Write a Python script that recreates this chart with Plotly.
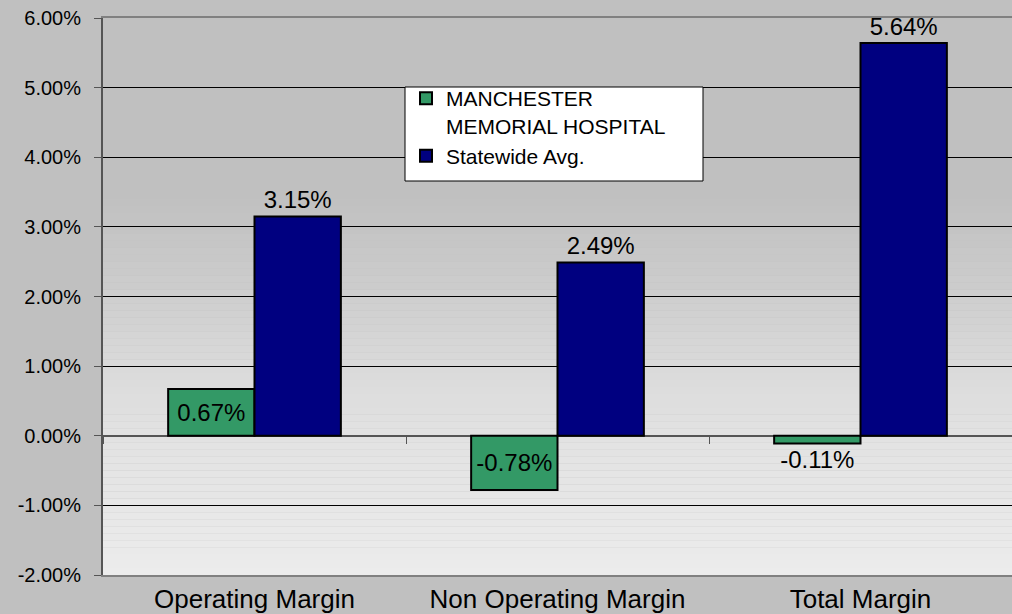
import plotly.graph_objects as go
import numpy as np

categories = ["Operating Margin", "Non Operating Margin", "Total Margin"]
hospital_name = "MANCHESTER<br>MEMORIAL HOSPITAL"
hospital_vals = [0.67, -0.78, -0.11]
statewide_name = "Statewide Avg."
statewide_vals = [3.15, 2.49, 5.64]
y_ticks = [-2, -1, 0, 1, 2, 3, 4, 5, 6]

FONT = "Liberation Sans, Arial, sans-serif"

W, H = 1012, 614
L, R, T, B = 103, 0, 18, 39
PW, PH = W - L - R, H - T - B

fig = go.Figure()
fig.add_trace(go.Bar(
    name=hospital_name, x=categories, y=hospital_vals,
    marker=dict(color="#339966", line=dict(color="black", width=2)),
    texttemplate="%{y:.2f}%", textposition=["inside", "inside", "outside"],
    textfont=dict(family=FONT, size=24, color="black"),
    insidetextanchor="middle", cliponaxis=False,
))
fig.add_trace(go.Bar(
    name=statewide_name, x=categories, y=statewide_vals,
    marker=dict(color="#000080", line=dict(color="black", width=2)),
    texttemplate="%{y:.2f}%", textposition="outside",
    textfont=dict(family=FONT, size=24, color="black"),
    cliponaxis=False,
))
# invisible trace to carry the tick-only axis at zero
fig.add_trace(go.Bar(x=categories, y=[None] * len(categories), xaxis="x2",
                     showlegend=False, hoverinfo="skip"))

# gradient background of the plot area
stops_y = [6, 3.5, 3, 2, 1, 0, -1, -2]
stops_c = [192, 192, 196, 206, 218, 226, 231, 236]
n = 80
edges = np.linspace(-2, 6, n + 1)
shapes = []
for i in range(n):
    mid = (edges[i] + edges[i + 1]) / 2
    c = int(round(np.interp(mid, stops_y[::-1], stops_c[::-1])))
    shapes.append(dict(type="rect", xref="paper", yref="y", x0=0, x1=1,
                       y0=edges[i], y1=edges[i + 1], layer="below",
                       fillcolor=f"rgb({c},{c},{c})", line=dict(width=0)))
# legend box
shapes.append(dict(type="rect", xref="paper", yref="paper",
                   x0=(405 - L) / PW, x1=(703 - L) / PW,
                   y0=(H - B - 181) / PH, y1=(H - B - 87) / PH,
                   fillcolor="white", line=dict(color="black", width=1), layer="above"))

fig.update_layout(
    width=W, height=H, autosize=False,
    margin=dict(l=L, r=R, t=T, b=B),
    paper_bgcolor="#c0c0c0", plot_bgcolor="rgba(0,0,0,0)",
    barmode="group", bargap=0.43, bargroupgap=0,
    font=dict(family=FONT, size=20, color="black"),
    shapes=shapes,
    showlegend=True,
    legend=dict(x=(406 - L) / PW, y=(H - B - 78) / PH, xanchor="left", yanchor="top",
                bgcolor="rgba(0,0,0,0)", borderwidth=0, valign="top",
                font=dict(family=FONT, size=21, color="black"),
                tracegroupgap=0, itemwidth=30),
    xaxis=dict(showgrid=False, ticks="", showline=True, linecolor="#808080",
               linewidth=2, mirror=True, tickfont=dict(size=26)),
    xaxis2=dict(overlaying="x", matches="x", anchor="free", position=0.25,
                showgrid=False, showline=False, ticks="outside", tickson="boundaries",
                ticklen=7, tickcolor="#555555", tickwidth=1, showticklabels=False),
    yaxis=dict(range=[-2, 6], tickvals=y_ticks, ticktext=[f"{v:.2f}%" for v in y_ticks],
               showgrid=True, gridcolor="black", gridwidth=1,
               zeroline=True, zerolinecolor="#555555", zerolinewidth=2,
               showline=True, linecolor="#555555", linewidth=2,
               ticks="outside", ticklen=7, tickcolor="#555555",
               ticklabelstandoff=9, tickfont=dict(size=20)),
)

post = (
    "document.body.style.margin='0px';"
    "document.body.style.overflow='hidden';"
    "var gd=document.getElementById('{plot_id}');"
    "Plotly.relayout(gd,{width:%d,height:%d});" % (W, H)
)
fig.write_html("out.html", post_script=post,
               config={"responsive": False, "displayModeBar": False})
